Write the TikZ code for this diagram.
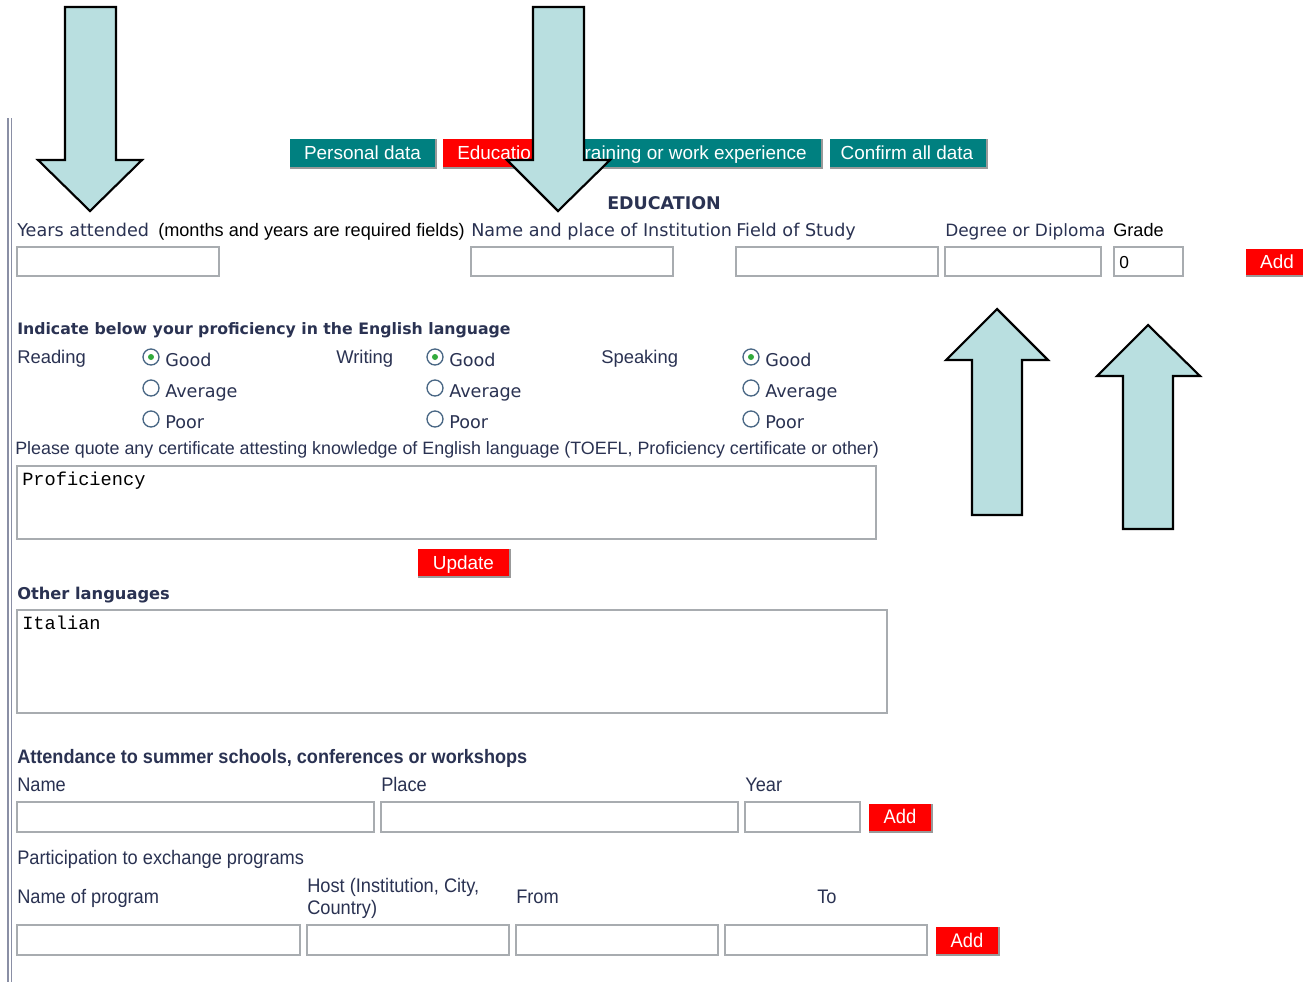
\documentclass[tikz,border=0pt]{standalone}
\usepackage{fontspec}
\setmainfont{DejaVu Sans}
\newfontfamily\lib{Liberation Sans}
\newfontfamily\narrow[FakeStretch=0.93]{Liberation Sans}
\newfontfamily\mono{Liberation Mono}
\definecolor{txt}{RGB}{42,50,82}
\definecolor{teal}{RGB}{0,128,128}
\definecolor{arrowblue}{RGB}{185,223,224}
\definecolor{fieldborder}{RGB}{168,172,176}
\definecolor{radioring}{RGB}{72,102,132}
\definecolor{radiodot}{RGB}{50,170,60}
\definecolor{sideline}{RGB}{138,143,165}
\tikzset{
  lbl/.style={anchor=base west, inner sep=0pt, text=txt, font=\fontsize{13.2}{15}\selectfont},
  tlbl/.style={anchor=base west, inner sep=0pt, text=txt, font=\lib\fontsize{13.8}{15}\selectfont},
  blk/.style={anchor=base west, inner sep=0pt, text=black, font=\lib\fontsize{13.6}{15}\selectfont},
  head/.style={anchor=base west, inner sep=0pt, text=txt, font=\fontsize{11.8}{14}\selectfont\bfseries},
  nlbl/.style={anchor=base west, inner sep=0pt, text=txt, font=\narrow\fontsize{14.7}{16}\selectfont},
  nhead/.style={anchor=base west, inner sep=0pt, text=txt, font=\narrow\fontsize{14.6}{16}\selectfont\bfseries},
  btntxt/.style={anchor=base, inner sep=0pt, text=white, font=\lib\fontsize{14.2}{16}\selectfont},
  monotxt/.style={anchor=base west, inner sep=0pt, text=black, font=\mono\fontsize{14}{15}\selectfont},
  field/.style={draw=fieldborder, fill=white, line width=1.3pt},
  shadow/.style={fill=black!40},
  bigarrow/.style={fill=arrowblue, draw=black, line width=1.6pt, line join=miter},
  radio/.style={draw=radioring, fill=white, line width=1pt},
}
\begin{document}
\begin{tikzpicture}[x=0.75pt,y=-0.75pt]
\useasboundingbox[fill=white] (0,0) rectangle (1303,982);
% left side lines
\draw[sideline, line width=1.2pt] (8,118) -- (8,982);
\draw[sideline, line width=1.2pt] (11.5,118) -- (11.5,982);

% tabs
\fill[shadow] (290,139) rectangle (437,169);
\fill[teal] (290,139) rectangle (435,167);
\node[btntxt] (t1) at (362.5,159) {Personal data};
\fill[shadow] (443,139) rectangle (547,169);
\fill[red] (443,139) rectangle (545,167);
\node[btntxt, anchor=base west] (t2) at (457,159) {Education};
\fill[shadow] (550,139) rectangle (823,169);
\fill[teal] (550,139) rectangle (821,167);
\node[btntxt, anchor=base east] (t3) at (807,159) {Training or work experience};
\fill[shadow] (830,139) rectangle (988,169);
\fill[teal] (830,139) rectangle (986,167);
\node[btntxt] (t4) at (907,159) {Confirm all data};

% arrows
\draw[bigarrow] (65,7) -- (116,7) -- (116,160) -- (142,160) -- (90,211) -- (38,160) -- (65,160) -- cycle;
\draw[bigarrow] (533,7) -- (584,7) -- (584,160) -- (610,160) -- (558,211) -- (507,160) -- (533,160) -- cycle;
\draw[bigarrow] (972,515) -- (1022,515) -- (1022,360) -- (1048,360) -- (997,309) -- (946,360) -- (972,360) -- cycle;
\draw[bigarrow] (1123,529) -- (1173,529) -- (1173,376) -- (1200,376) -- (1148,325) -- (1097,376) -- (1123,376) -- cycle;

% education
\node[head, anchor=base, font=\fontsize{13.1}{15}\selectfont\bfseries] (edu) at (664,209) {EDUCATION};
\node[lbl] (ya) at (17,236) {Years attended};
\node[blk] (ya2) at (158,236) {(months and years are required fields)};
\node[lbl] (np) at (471,236) {Name and place of Institution};
\node[lbl] (fs) at (736,236) {Field of Study};
\node[lbl, font=\fontsize{12.7}{15}\selectfont] (dd) at (945,236) {Degree or Diploma};
\node[blk] (gr) at (1113,236) {Grade};
\draw[field] (17,247) rectangle (219,276);
\draw[field] (471,247) rectangle (673,276);
\draw[field] (736,247) rectangle (938,276);
\draw[field] (945,247) rectangle (1101,276);
\draw[field] (1114,247) rectangle (1183,276);
\node[anchor=base west, inner sep=0pt, font=\lib\fontsize{13}{15}\selectfont] (zero) at (1119,268) {0};
\fill[shadow] (1246,249) rectangle (1305,277);
\fill[red] (1246,249) rectangle (1303,275);
\node[btntxt] (add1) at (1277,268) {Add};

% English proficiency
\node[head] (ind) at (17,334) {Indicate below your proficiency in the English language};
\node[tlbl] (rd) at (17,363) {Reading};
\node[tlbl] (wr) at (336,363) {Writing};
\node[tlbl] (sp) at (601,363) {Speaking};
\foreach \xx/\nm in {151/r, 435/w, 751/s}{
  \draw[radio] (\xx,357) circle (8);
  \fill[radiodot] (\xx,357) circle (3);
  \draw[radio] (\xx,388) circle (8);
  \draw[radio] (\xx,419) circle (8);
  \node[lbl] (\nm g) at (\xx+14,366) {Good};
  \node[lbl] (\nm a) at (\xx+14,397) {Average};
  \node[lbl] (\nm p) at (\xx+14,428) {Poor};
}
\node[tlbl, font=\lib\fontsize{13.4}{15}\selectfont] (pq) at (15,454) {Please quote any certificate attesting knowledge of English language (TOEFL, Proficiency certificate or other)};
\draw[field] (17,466) rectangle (876,539);
\node[monotxt] (prof) at (22,485) {Proficiency};
\fill[shadow] (418,549) rectangle (511,578);
\fill[red] (418,549) rectangle (509,576);
\node[btntxt] (upd) at (463.5,569) {Update};

% other languages
\node[head, font=\fontsize{12.2}{14}\selectfont\bfseries] (ol) at (17,599) {Other languages};
\draw[field] (17,610) rectangle (887,713);
\node[monotxt] (ital) at (22,629) {Italian};

% attendance
\node[nhead] (att) at (17,763) {Attendance to summer schools, conferences or workshops};
\node[nlbl] (an) at (17,791) {Name};
\node[nlbl] (ap) at (381,791) {Place};
\node[nlbl] (ay) at (745,791) {Year};
\draw[field] (17,802) rectangle (374,832);
\draw[field] (381,802) rectangle (738,832);
\draw[field] (745,802) rectangle (860,832);
\fill[shadow] (869,804) rectangle (933,833);
\fill[red] (869,804) rectangle (931,831);
\node[btntxt, font=\narrow\fontsize{14.8}{16}\selectfont] (add2) at (900,823) {Add};

% exchange
\node[nlbl] (pe) at (17,864) {Participation to exchange programs};
\node[nlbl] (nop) at (17,903) {Name of program};
\node[nlbl] (h1) at (307,892) {Host (Institution, City,};
\node[nlbl] (h2) at (307,914) {Country)};
\node[nlbl] (fr) at (516,903) {From};
\node[nlbl] (to) at (817,903) {To};
\draw[field] (17,925) rectangle (300,955);
\draw[field] (307,925) rectangle (509,955);
\draw[field] (516,925) rectangle (718,955);
\draw[field] (725,925) rectangle (927,955);
\fill[shadow] (936,927) rectangle (1000,956);
\fill[red] (936,927) rectangle (998,954);
\node[btntxt, font=\narrow\fontsize{14.8}{16}\selectfont] (add3) at (967,947) {Add};
\end{tikzpicture}
\end{document}
